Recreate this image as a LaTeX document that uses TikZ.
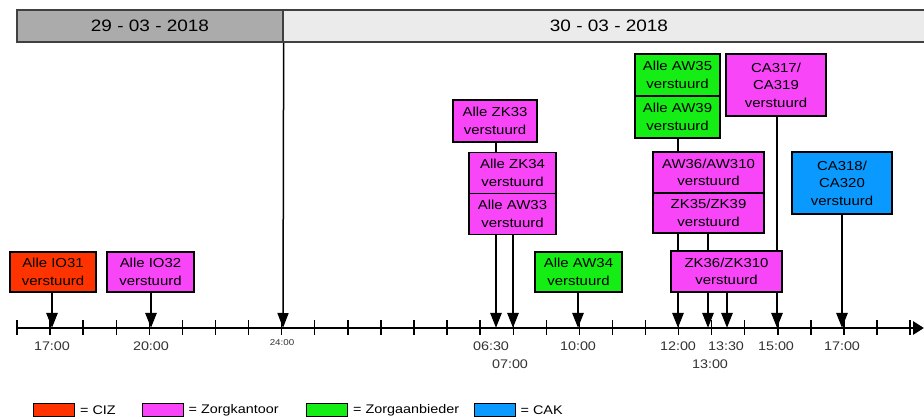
\documentclass[tikz,border=0pt]{standalone}
\usepackage{fontspec}
\setmainfont{Liberation Sans}[FakeStretch=1.15]
\usetikzlibrary{
	positioning
	,arrows.meta
	,backgrounds
}
\definecolor{ciz}{HTML}{FF3300}
\definecolor{zorgkantoor}{HTML}{F845F8}
\definecolor{zorgaanbieder}{HTML}{14EE14}
\definecolor{cak}{HTML}{0A99FF}
\definecolor{daydark}{HTML}{ABABAB}
\definecolor{daylight}{HTML}{EBEBEB}
\newcommand{\send}[3][]{
	\draw[send,#1] (#2) -- (#3);
}
\tikzset{
	send/.style={
		line width=2.5pt
		,-{Triangle[width=11pt,length=15pt]}
	},
	event/.style={
		draw,
		rectangle,
		line width=1.3pt,
		align=center,
		inner sep=0pt,
		font=\fontsize{13}{17.5}\selectfont,
	},
	box size/.style 2 args={
		minimum width=#1,
		minimum height=#2
	},
	day/.style={
		draw=black!75,
		line width=1.3pt,
		inner sep=0pt,
		minimum height=32,
		font=\fontsize{16.5}{18}\selectfont,
	},
	timelabel/.style={
		inner sep=0pt,
		text=black!80,
		font=\fontsize{12.5}{14}\selectfont,
	},
	swatch/.style={
		draw,
		line width=1pt,
		minimum width=41,
		minimum height=13,
		inner sep=0pt
	},
	keytext/.style={
		inner sep=0pt,
		font=\fontsize{12.5}{14}\selectfont
	}
}
\begin{document}
\begin{tikzpicture}[x=1pt,y=-1pt]
	\useasboundingbox (0,0) rectangle (924,419);
	
	% days
	\node[day,fill=daydark,minimum width=266](day29) at(150,26){29 - 03 - 2018};
	\node[day,fill=daylight,minimum width=652](day30) at(609,26){30 - 03 - 2018};
	
	% time axis
	\coordinate (axstart) at(17,328);
	\coordinate (axend) at(924,328);
	\draw[line width=2.8pt,-{Triangle[width=13pt,length=11pt]}] (axstart) -- (axend);
	\foreach \i in{0,...,26}{
		\draw[line width=1.4pt] (17+33.08*\i,320) -- ++(0,15);
	}
	\draw[line width=1.4pt] (910,320) -- ++(0,15);
	
	\foreach \n/\x in{
		t1700/52,t2000/151,t2400/283,t0630/496,t0700/513,t1000/578,%
		t1200/678,t1300/708,t1330/727,t1500/777,t1700b/842%
	}{
		\coordinate (\n) at(\x,328);
	}
	
	\foreach \x/\y/\t [count=\k] in{
		52/346/17:00,151/346/20:00,491/346/06:30,510/364/07:00,578/346/10:00,%
		678/346/12:00,710/364/13:00,726/346/13:30,776/346/15:00,842/346/17:00%
	}{
		\node[timelabel](lab\k) at(\x,\y){\t};
	}
	\node[timelabel,font=\fontsize{8.5}{10}\selectfont](lab24) at(282,343){24:00};
	
	% events
	\node[event,fill=ciz,box size={86}{40}](io31) at(53,272){Alle IO31\\verstuurd};
	\node[event,fill=zorgkantoor,box size={87}{40}](io32) at(150.5,272){Alle IO32\\verstuurd};
	
	\node[event,fill=zorgkantoor,box size={84}{42}](zk33) at(495,121){Alle ZK33\\verstuurd};
	\node[event,fill=zorgkantoor,box size={87}{41}](zk34) at(512.5,173){Alle ZK34\\verstuurd};
	\node[event,fill=zorgkantoor,box size={87}{41}](aw33) at(512.5,214){Alle AW33\\verstuurd};
	\node[event,fill=zorgaanbieder,box size={87}{40}](aw34) at(578.5,272){Alle AW34\\verstuurd};
	
	\node[event,fill=zorgaanbieder,box size={85}{42}](aw35) at(677.5,75){Alle AW35\\verstuurd};
	\node[event,fill=zorgaanbieder,box size={85}{42}](aw39) at(677.5,117){Alle AW39\\verstuurd};
	\node[event,fill=zorgkantoor,box size={111}{41}](aw36) at(708.5,172.5){AW36/AW310\\verstuurd};
	\node[event,fill=zorgkantoor,box size={111}{40}](zk35) at(708.5,213){ZK35/ZK39\\verstuurd};
	\node[event,fill=zorgkantoor,box size={111}{41}](zk36) at(726.5,271.5){ZK36/ZK310\\verstuurd};
	
	\node[event,fill=zorgkantoor,box size={100}{62}](ca317) at(776,85){CA317/\\CA319\\verstuurd};
	\node[event,fill=cak,box size={100}{62}](ca318) at(842,183){CA318/\\CA320\\verstuurd};
	
	\begin{scope}[on background layer]
		\send[line width=1.5pt]{day29.south east}{t2400}
		\send{io31.south -| t1700}{t1700}
		\send{io32.south -| t2000}{t2000}
		\send{zk33.south -| t0630}{t0630}
		\send{zk34.south -| t0700}{t0700}
		\send{aw34.south -| t1000}{t1000}
		\send{aw39.south -| t1200}{t1200}
		\send{aw36.south -| t1300}{t1300}
		\send{zk36.south -| t1330}{t1330}
		\send{ca317.south -| t1500}{t1500}
		\send{ca318.south -| t1700b}{t1700b}
	\end{scope}
	
	% legend
	\foreach \c/\x/\t in{
		ciz/54/CIZ,zorgkantoor/162.5/Zorgkantoor,%
		zorgaanbieder/327/Zorgaanbieder,cak/494.5/CAK%
	}{
		\node[swatch,fill=\c](key\c) at(\x,410){};
		\node[keytext,right=5pt of key\c](txt\c){= \t};
	}
\end{tikzpicture}
\end{document}
